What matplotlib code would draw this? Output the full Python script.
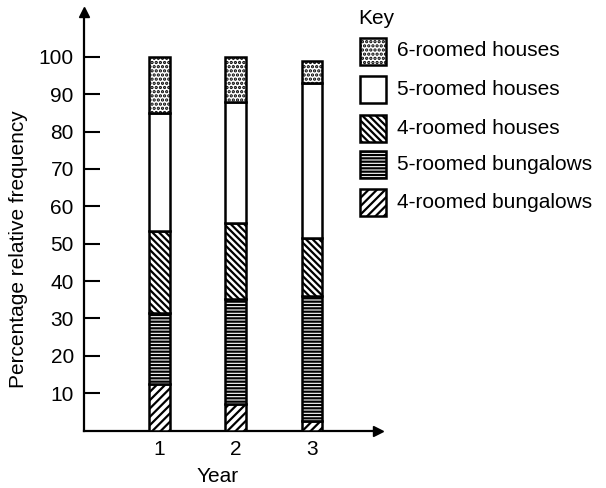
"""
Stacked percentage bar chart of house types per year, drawn with hatched bars.
"""
import numpy as np
from matplotlib import pyplot as plt
from matplotlib.patches import Rectangle

plt.rcParams['font.family'] = ['Liberation Sans', 'DejaVu Sans']
plt.rcParams['hatch.linewidth'] = 1.6

# Data (percentages)
years = [1, 2, 3]
four_room_bungalows = [12.5, 7.0, 2.5]
five_room_bungalows = [19.0, 28.3, 33.5]
four_room_houses = [22.0, 20.2, 15.5]
five_room_houses = [31.5, 32.5, 41.5]
six_room_houses = [15.0, 12.0, 6.0]

labels = ["4-roomed bungalows", "5-roomed bungalows", "4-roomed houses",
          "5-roomed houses", "6-roomed houses"]
hatches = ["////", "-----", "\\\\\\\\\\", "", "...."]
series = [four_room_bungalows, five_room_bungalows, four_room_houses,
          five_room_houses, six_room_houses]

FS = 15
W, H = 606, 488
fig = plt.figure(figsize=(W / 100, H / 100), dpi=100)
left, right, bottom, top = 83.5, 378, 430.5, 12
ax = fig.add_axes([left / W, (H - bottom) / H, (right - left) / W, (bottom - top) / H])

# Stacked bars
base = np.zeros(len(years))
for values, hatch in zip(series, hatches):
    ax.bar(years, values, bottom=base, width=0.27, color="white", edgecolor="black",
           linewidth=1.8, hatch=hatch, zorder=3)
    base += np.array(values)

ax.set_xlim(0, 3.87)
ax.set_ylim(0, 112)
ax.set_xticks(years)
ax.set_yticks(np.arange(10, 101, 10))
ax.tick_params(axis="y", direction="in", length=11.5, width=1.5, pad=7, labelsize=FS)
ax.tick_params(axis="x", length=0, pad=7, labelsize=FS)

for side in ("top", "right"):
    ax.spines[side].set_visible(False)
for side in ("left", "bottom"):
    ax.spines[side].set_linewidth(1.6)

# Arrow heads on the axes
ax.plot(1, 0, ">k", markersize=7, transform=ax.transAxes, clip_on=False)
ax.plot(0, 1, "^k", markersize=7, transform=ax.transAxes, clip_on=False)

ax.set_xlabel("Year", fontsize=FS)
ax.xaxis.set_label_coords((218 - left) / (right - left), -(477 - bottom) / (bottom - top))
ax.xaxis.label.set_verticalalignment("center")
ax.set_ylabel("Percentage relative frequency", fontsize=FS)
ax.yaxis.set_label_coords(-(left - 19) / (right - left), (bottom - 249) / (bottom - top))
ax.yaxis.label.set_verticalalignment("center")

# Key, drawn by hand to the right of the plot
fig.text(358 / W, 1 - 18 / H, "Key", fontsize=FS, va="center", ha="left")
row_centres = [51, 89.5, 128.5, 164.5, 202.5]
for centre, label, hatch in zip(row_centres, labels[::-1], hatches[::-1]):
    fig.add_artist(Rectangle((360 / W, 1 - (centre + 13.5) / H), 26 / W, 27 / H,
                             transform=fig.transFigure, facecolor="white",
                             edgecolor="black", linewidth=1.8, hatch=hatch))
    fig.text(397 / W, 1 - centre / H, label, fontsize=FS, va="center", ha="left")

plt.savefig("out.png", dpi=100)
